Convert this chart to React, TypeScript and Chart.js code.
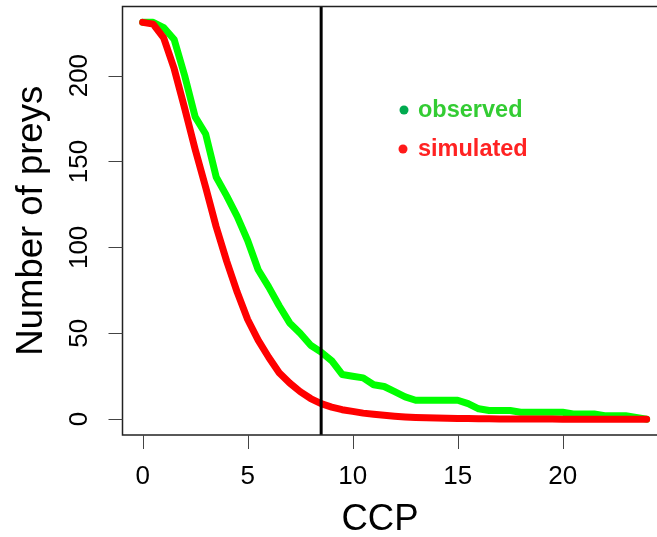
import { useEffect, useRef } from "react";
import { Chart, registerables } from "chart.js";

Chart.register(...registerables);

// CCP values (x)
const CCP = [
  0, 0.5, 1, 1.5, 2, 2.5, 3, 3.5, 4, 4.5, 5, 5.5, 6, 6.5, 7, 7.5, 8, 8.5, 9, 9.5,
  10, 10.5, 11, 11.5, 12, 12.5, 13, 13.5, 14, 14.5, 15, 15.5, 16, 16.5, 17, 17.5,
  18, 18.5, 19, 19.5, 20, 20.5, 21, 21.5, 22, 22.5, 23, 23.5, 24,
];

// Number of preys, observed
const OBSERVED = [
  231, 231, 228, 221, 200, 176, 166, 141, 130, 118, 104, 87, 77, 66, 56, 50, 43, 39, 34, 26,
  25, 24, 20, 19, 16, 13, 11, 11, 11, 11, 11, 9, 6, 5, 5, 5,
  4, 4, 4, 4, 4, 3, 3, 3, 2, 2, 2, 1, 0,
];

// Number of preys, simulated
const SIMULATED = [
  231, 230, 222, 204, 181, 157, 135, 112, 92, 74, 58, 46, 36, 27, 21, 16, 12, 9, 7, 5.5,
  4.5, 3.5, 2.8, 2.2, 1.7, 1.3, 1, 0.8, 0.6, 0.5, 0.4, 0.3, 0.2, 0.2, 0.1, 0.1,
  0.1, 0.1, 0.1, 0.1, 0, 0, 0, 0, 0, 0, 0, 0, 0,
];

const X_TICKS = [0, 5, 10, 15, 20];
const Y_TICKS = [0, 50, 100, 150, 200];
const CUTOFF = 8.5;
const X_LIMITS = [-0.96, 24.96];
const Y_LIMITS = [-9.24, 240.24];
const X_TITLE = "CCP";
const Y_TITLE = "Number of preys";
const LEGEND_LABELS = ["observed", "simulated"];

const FONT = '"Liberation Sans", Arial, sans-serif';

const rPlot = {
  id: "rPlot",
  afterDatasetsDraw(chart: any) {
    const { ctx, chartArea: a, scales } = chart;
    const x = scales.x;
    const y = scales.y;
    ctx.save();

    // vertical cutoff line
    const vx = x.getPixelForValue(CUTOFF);
    ctx.strokeStyle = "#000";
    ctx.lineWidth = 3;
    ctx.beginPath();
    ctx.moveTo(vx, a.top);
    ctx.lineTo(vx, a.bottom);
    ctx.stroke();

    // box
    ctx.lineWidth = 1.5;
    ctx.strokeStyle = "#222";
    ctx.strokeRect(a.left, a.top, a.right - a.left, a.bottom - a.top);

    // tick marks
    ctx.lineWidth = 1;
    ctx.strokeStyle = "#444";
    ctx.beginPath();
    for (const t of X_TICKS) {
      const px = Math.round(x.getPixelForValue(t)) + 0.5;
      ctx.moveTo(px, a.bottom);
      ctx.lineTo(px, a.bottom + 14);
    }
    for (const t of Y_TICKS) {
      const py = Math.round(y.getPixelForValue(t)) + 0.5;
      ctx.moveTo(a.left, py);
      ctx.lineTo(a.left - 14, py);
    }
    ctx.stroke();

    // tick labels
    ctx.fillStyle = "#000";
    ctx.font = `26px ${FONT}`;
    ctx.textAlign = "center";
    ctx.textBaseline = "alphabetic";
    for (const t of X_TICKS) {
      ctx.fillText(String(t), x.getPixelForValue(t), 484);
    }
    for (const t of Y_TICKS) {
      ctx.save();
      ctx.translate(87, y.getPixelForValue(t));
      ctx.rotate(-Math.PI / 2);
      ctx.fillText(String(t), 0, 0);
      ctx.restore();
    }

    // axis titles
    ctx.font = `36.5px ${FONT}`;
    ctx.fillText(X_TITLE, 380, 530);
    ctx.save();
    ctx.translate(42, (a.top + a.bottom) / 2);
    ctx.rotate(-Math.PI / 2);
    ctx.fillText(Y_TITLE, 0, 0);
    ctx.restore();

    // legend
    const entries = [
      { label: LEGEND_LABELS[0], dot: "#00aa4f", text: "#33cc33", dx: 404, dy: 110, base: 116.5 },
      { label: LEGEND_LABELS[1], dot: "#ff1a1a", text: "#ff2222", dx: 403, dy: 149, base: 155.5 },
    ];
    ctx.font = `bold 23.5px ${FONT}`;
    ctx.textAlign = "left";
    for (const e of entries) {
      ctx.fillStyle = e.dot;
      ctx.beginPath();
      ctx.arc(e.dx, e.dy, 4.5, 0, Math.PI * 2);
      ctx.fill();
      ctx.fillStyle = e.text;
      ctx.fillText(e.label, 418, e.base);
    }

    ctx.restore();
  },
};

export default function App() {
  const ref = useRef<HTMLCanvasElement | null>(null);

  useEffect(() => {
    if (!ref.current) return;
    const chart = new Chart(ref.current, {
      type: "line",
      data: {
        datasets: [
          {
            label: LEGEND_LABELS[0],
            data: CCP.map((c, i) => ({ x: c, y: OBSERVED[i] })),
            borderColor: "#00ff00",
            borderWidth: 7,
            borderCapStyle: "round",
            borderJoinStyle: "round",
            pointRadius: 0,
            tension: 0,
            order: 1,
          },
          {
            label: LEGEND_LABELS[1],
            data: CCP.map((c, i) => ({ x: c, y: SIMULATED[i] })),
            borderColor: "#ff0000",
            borderWidth: 7,
            borderCapStyle: "round",
            borderJoinStyle: "round",
            pointRadius: 0,
            tension: 0,
            order: 0,
          },
        ],
      },
      options: {
        animation: false,
        responsive: false,
        devicePixelRatio: 1,
        layout: { padding: { left: 122.5, right: 13.2, top: 6.5, bottom: 102 } },
        scales: {
          x: { type: "linear", min: X_LIMITS[0], max: X_LIMITS[1], display: false },
          y: { type: "linear", min: Y_LIMITS[0], max: Y_LIMITS[1], display: false },
        },
        plugins: {
          legend: { display: false },
          tooltip: { enabled: false },
        },
      } as any,
      plugins: [rPlot],
    });
    return () => chart.destroy();
  }, []);

  return (
    <div
      style={{
        position: "fixed",
        left: 0,
        top: 0,
        width: 657,
        height: 537,
        overflow: "hidden",
        background: "#fff",
      }}
    >
      <canvas ref={ref} width={680} height={537} style={{ display: "block", width: 680, height: 537 }} />
    </div>
  );
}
